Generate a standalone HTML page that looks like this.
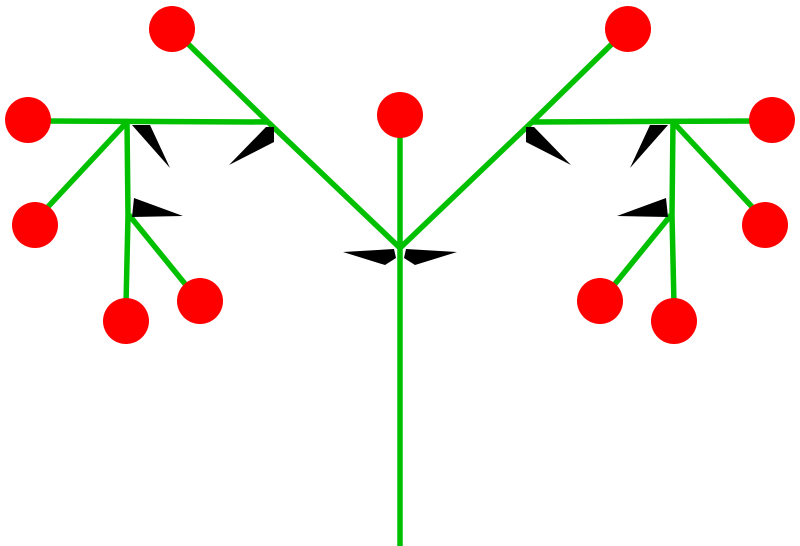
<!DOCTYPE html>
<html><head><style>html,body{margin:0;padding:0;background:#fff}svg{display:block}</style></head>
<body>
<svg width="800" height="546" viewBox="0 0 800 546" xmlns="http://www.w3.org/2000/svg">
<defs>
<g id="half">
  <g stroke="#00c000" stroke-width="5.5" fill="none" stroke-linecap="butt">
    <line x1="400" y1="248" x2="268" y2="122"/>
    <line x1="268" y1="122" x2="182" y2="38"/>
    <line x1="45" y1="121" x2="268" y2="122"/>
    <line x1="127" y1="122" x2="45" y2="210"/>
    <polyline points="127,122 128,215 126,305"/>
    <line x1="129" y1="215" x2="190" y2="290"/>
  </g>
  <g fill="#000">
    <polygon points="132,125 150,125 170,168"/>
    <polygon points="266,127 274,127 274,142 229,165"/>
    <polygon points="134,198 183,216 132,217"/>
    <polygon points="343,252 394,249 396,258 385,265"/>
  </g>
  <g fill="#f00">
    <circle cx="172" cy="29" r="23"/>
    <circle cx="28" cy="120" r="23"/>
    <circle cx="35" cy="225" r="23"/>
    <circle cx="126" cy="321" r="23"/>
    <circle cx="200" cy="301" r="23"/>
  </g>
</g>
</defs>
<line x1="400" y1="546" x2="400" y2="130" stroke="#00c000" stroke-width="5.5"/>
<use href="#half"/>
<use href="#half" transform="translate(800,0) scale(-1,1)"/>
<circle cx="400" cy="115" r="23" fill="#f00"/>
</svg>
</body></html>
